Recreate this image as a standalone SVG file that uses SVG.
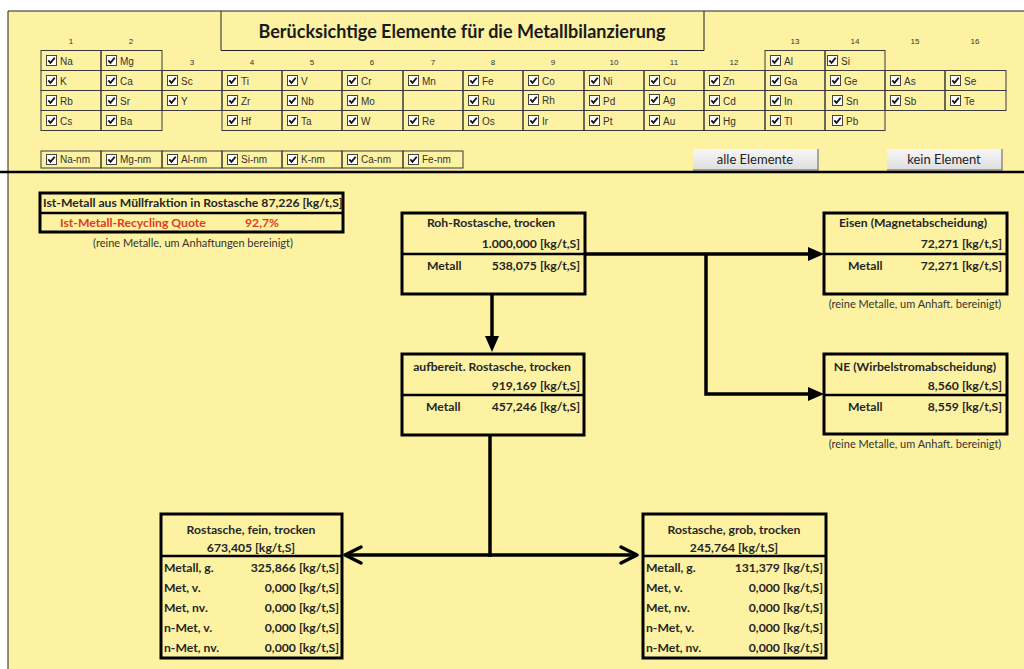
<svg xmlns="http://www.w3.org/2000/svg" width="1024" height="669" viewBox="0 0 1024 669">
  <style>
    .txt { font-family: Lato, "Liberation Sans", sans-serif; font-weight: bold; font-size: 12.2px; fill: #262626; }
    .note { font-family: Lato, "Liberation Sans", sans-serif; font-size: 11px; fill: #333; }
    .el { font-family: "Liberation Sans", Arial, sans-serif; font-size: 10px; fill: #333; }
    .grp { font-family: "Liberation Sans", Arial, sans-serif; font-size: 8px; fill: #333; text-anchor: middle; }
    .cell { fill: none; stroke: #3a3a3a; stroke-width: 1; }
    .box { fill: none; stroke: #000; stroke-width: 3; }
    .div { stroke: #000; stroke-width: 2.5; }
    .conn { fill: none; stroke: #000; stroke-width: 3.5; }
    .btn { font-family: Lato, "Liberation Sans", sans-serif; font-size: 13px; fill: #222; text-anchor: middle; }
    .end { text-anchor: end; }
    .mid { text-anchor: middle; }
  </style>
  <defs>
    <g id="cb">
      <rect x="0.5" y="0.5" width="10" height="10" fill="#fff" stroke="#444" stroke-width="1"/>
      <path d="M2.3,5.4 L4.5,7.9 L8.7,2.7" fill="none" stroke="#111" stroke-width="1.8"/>
    </g>
    <linearGradient id="btnfill" x1="0" y1="0" x2="0" y2="1">
      <stop offset="0" stop-color="#f7f7f7"/>
      <stop offset="1" stop-color="#dedede"/>
    </linearGradient>
    <marker id="tri" viewBox="0 0 16 14" refX="10" refY="7" markerWidth="16" markerHeight="14" orient="auto" markerUnits="userSpaceOnUse">
      <path d="M0,0 L16,7 L0,14 Z" fill="#000"/>
    </marker>
    <marker id="chev" viewBox="-3 -3 22 22" refX="16" refY="8" markerWidth="22" markerHeight="22" orient="auto" markerUnits="userSpaceOnUse">
      <path d="M0,0 L16,8 L0,16" fill="none" stroke="#000" stroke-width="3.5" stroke-linecap="round" stroke-linejoin="round"/>
    </marker>
  </defs>

  <!-- sheet background -->
  <rect x="0" y="0" width="1024" height="669" fill="#ffffff"/>
  <rect x="8" y="11" width="1016" height="658" fill="#fcf2a2"/>
  <path d="M8,11 H1024 M8,11 V669" stroke="#222" stroke-width="1" fill="none"/>

  <!-- title box -->
  <g id="title">
    <path d="M221,11 V50.5 H704 V11" fill="none" stroke="#222" stroke-width="1"/>
    <text x="462" y="37.5" font-family="Lato, 'Liberation Sans', sans-serif" font-weight="bold" font-size="18" fill="#1a1a1a" text-anchor="middle">Berücksichtige Elemente für die Metallbilanzierung</text>
  </g>

  <!-- group numbers -->
  <g id="groups">
    <text class="grp" x="71" y="44">1</text>
    <text class="grp" x="131" y="44">2</text>
    <text class="grp" x="192" y="65">3</text>
    <text class="grp" x="252" y="65">4</text>
    <text class="grp" x="312" y="65">5</text>
    <text class="grp" x="372" y="65">6</text>
    <text class="grp" x="433" y="65">7</text>
    <text class="grp" x="493" y="65">8</text>
    <text class="grp" x="553" y="65">9</text>
    <text class="grp" x="614" y="65">10</text>
    <text class="grp" x="674" y="65">11</text>
    <text class="grp" x="734" y="65">12</text>
    <text class="grp" x="795" y="44">13</text>
    <text class="grp" x="855" y="44">14</text>
    <text class="grp" x="915" y="44">15</text>
    <text class="grp" x="975" y="44">16</text>
  </g>

  <!-- element cells: row 1 -->
  <g id="row1">
    <rect class="cell" x="41" y="50.5" width="60" height="20"/><use href="#cb" x="46" y="55"/><text class="el" x="60" y="64.5">Na</text>
    <rect class="cell" x="101" y="50.5" width="61" height="20"/><use href="#cb" x="106" y="55"/><text class="el" x="120" y="64.5">Mg</text>
    <rect class="cell" x="765" y="50.5" width="60" height="20"/><use href="#cb" x="770" y="55"/><text class="el" x="784" y="64.5">Al</text>
    <rect class="cell" x="825" y="50.5" width="60" height="20"/><use href="#cb" x="827" y="55"/><text class="el" x="841" y="64.5">Si</text>
  </g>

  <!-- element cells: row 2 -->
  <g id="row2">
    <rect class="cell" x="41" y="70.5" width="60" height="20"/><use href="#cb" x="46" y="75"/><text class="el" x="60" y="84.5">K</text>
    <rect class="cell" x="101" y="70.5" width="61" height="20"/><use href="#cb" x="106" y="75"/><text class="el" x="120" y="84.5">Ca</text>
    <rect class="cell" x="162" y="70.5" width="60" height="20"/><use href="#cb" x="167" y="75"/><text class="el" x="181" y="84.5">Sc</text>
    <rect class="cell" x="222" y="70.5" width="60" height="20"/><use href="#cb" x="227" y="75"/><text class="el" x="241" y="84.5">Ti</text>
    <rect class="cell" x="282" y="70.5" width="60" height="20"/><use href="#cb" x="287" y="75"/><text class="el" x="301" y="84.5">V</text>
    <rect class="cell" x="342" y="70.5" width="61" height="20"/><use href="#cb" x="347" y="75"/><text class="el" x="361" y="84.5">Cr</text>
    <rect class="cell" x="403" y="70.5" width="60" height="20"/><use href="#cb" x="408" y="75"/><text class="el" x="422" y="84.5">Mn</text>
    <rect class="cell" x="463" y="70.5" width="60" height="20"/><use href="#cb" x="468" y="75"/><text class="el" x="482" y="84.5">Fe</text>
    <rect class="cell" x="523" y="70.5" width="61" height="20"/><use href="#cb" x="528" y="75"/><text class="el" x="542" y="84.5">Co</text>
    <rect class="cell" x="584" y="70.5" width="60" height="20"/><use href="#cb" x="589" y="75"/><text class="el" x="603" y="84.5">Ni</text>
    <rect class="cell" x="644" y="70.5" width="60" height="20"/><use href="#cb" x="649" y="75"/><text class="el" x="663" y="84.5">Cu</text>
    <rect class="cell" x="704" y="70.5" width="61" height="20"/><use href="#cb" x="709" y="75"/><text class="el" x="723" y="84.5">Zn</text>
    <rect class="cell" x="765" y="70.5" width="60" height="20"/><use href="#cb" x="770" y="75"/><text class="el" x="784" y="84.5">Ga</text>
    <rect class="cell" x="825" y="70.5" width="60" height="20"/><use href="#cb" x="830" y="75"/><text class="el" x="844" y="84.5">Ge</text>
    <rect class="cell" x="885" y="70.5" width="60" height="20"/><use href="#cb" x="890" y="75"/><text class="el" x="904" y="84.5">As</text>
    <rect class="cell" x="945" y="70.5" width="61" height="20"/><use href="#cb" x="950" y="75"/><text class="el" x="964" y="84.5">Se</text>
  </g>

  <!-- element cells: row 3 -->
  <g id="row3">
    <rect class="cell" x="41" y="90.5" width="60" height="20"/><use href="#cb" x="46" y="95"/><text class="el" x="60" y="104.5">Rb</text>
    <rect class="cell" x="101" y="90.5" width="61" height="20"/><use href="#cb" x="106" y="95"/><text class="el" x="120" y="104.5">Sr</text>
    <rect class="cell" x="162" y="90.5" width="60" height="20"/><use href="#cb" x="167" y="95"/><text class="el" x="181" y="104.5">Y</text>
    <rect class="cell" x="222" y="90.5" width="60" height="20"/><use href="#cb" x="227" y="95"/><text class="el" x="241" y="104.5">Zr</text>
    <rect class="cell" x="282" y="90.5" width="60" height="20"/><use href="#cb" x="287" y="95"/><text class="el" x="301" y="104.5">Nb</text>
    <rect class="cell" x="342" y="90.5" width="61" height="20"/><use href="#cb" x="347" y="95"/><text class="el" x="361" y="104.5">Mo</text>
    <rect class="cell" x="403" y="90.5" width="60" height="20"/>
    <rect class="cell" x="463" y="90.5" width="60" height="20"/><use href="#cb" x="468" y="95"/><text class="el" x="482" y="104.5">Ru</text>
    <rect class="cell" x="523" y="90.5" width="61" height="20"/><use href="#cb" x="528" y="94"/><text class="el" x="542" y="103.5">Rh</text>
    <rect class="cell" x="584" y="90.5" width="60" height="20"/><use href="#cb" x="589" y="95"/><text class="el" x="603" y="104.5">Pd</text>
    <rect class="cell" x="644" y="90.5" width="60" height="20"/><use href="#cb" x="649" y="94"/><text class="el" x="663" y="103.5">Ag</text>
    <rect class="cell" x="704" y="90.5" width="61" height="20"/><use href="#cb" x="709" y="95"/><text class="el" x="723" y="104.5">Cd</text>
    <rect class="cell" x="765" y="90.5" width="60" height="20"/><use href="#cb" x="770" y="95"/><text class="el" x="784" y="104.5">In</text>
    <rect class="cell" x="825" y="90.5" width="60" height="20"/><use href="#cb" x="832" y="95"/><text class="el" x="846" y="104.5">Sn</text>
    <rect class="cell" x="885" y="90.5" width="60" height="20"/><use href="#cb" x="890" y="95"/><text class="el" x="904" y="104.5">Sb</text>
    <rect class="cell" x="945" y="90.5" width="61" height="20"/><use href="#cb" x="950" y="95"/><text class="el" x="964" y="104.5">Te</text>
  </g>

  <!-- element cells: row 4 -->
  <g id="row4">
    <rect class="cell" x="41" y="110.5" width="60" height="20"/><use href="#cb" x="46" y="115"/><text class="el" x="60" y="124.5">Cs</text>
    <rect class="cell" x="101" y="110.5" width="61" height="20"/><use href="#cb" x="106" y="115"/><text class="el" x="120" y="124.5">Ba</text>
    <rect class="cell" x="222" y="110.5" width="60" height="20"/><use href="#cb" x="227" y="115"/><text class="el" x="241" y="124.5">Hf</text>
    <rect class="cell" x="282" y="110.5" width="60" height="20"/><use href="#cb" x="287" y="115"/><text class="el" x="301" y="124.5">Ta</text>
    <rect class="cell" x="342" y="110.5" width="61" height="20"/><use href="#cb" x="347" y="115"/><text class="el" x="361" y="124.5">W</text>
    <rect class="cell" x="403" y="110.5" width="60" height="20"/><use href="#cb" x="408" y="115"/><text class="el" x="422" y="124.5">Re</text>
    <rect class="cell" x="463" y="110.5" width="60" height="20"/><use href="#cb" x="468" y="115"/><text class="el" x="482" y="124.5">Os</text>
    <rect class="cell" x="523" y="110.5" width="61" height="20"/><use href="#cb" x="528" y="115"/><text class="el" x="542" y="124.5">Ir</text>
    <rect class="cell" x="584" y="110.5" width="60" height="20"/><use href="#cb" x="589" y="115"/><text class="el" x="603" y="124.5">Pt</text>
    <rect class="cell" x="644" y="110.5" width="60" height="20"/><use href="#cb" x="649" y="115"/><text class="el" x="663" y="124.5">Au</text>
    <rect class="cell" x="704" y="110.5" width="61" height="20"/><use href="#cb" x="709" y="115"/><text class="el" x="723" y="124.5">Hg</text>
    <rect class="cell" x="765" y="110.5" width="60" height="20"/><use href="#cb" x="770" y="115"/><text class="el" x="784" y="124.5">Tl</text>
    <rect class="cell" x="825" y="110.5" width="60" height="20"/><use href="#cb" x="832" y="115"/><text class="el" x="846" y="124.5">Pb</text>
  </g>

  <!-- non-metal fractions -->
  <g id="nm-row">
    <rect class="cell" x="41" y="151" width="60" height="17"/><use href="#cb" x="46" y="154"/><text class="el" x="60" y="163">Na-nm</text>
    <rect class="cell" x="101" y="151" width="61" height="17"/><use href="#cb" x="106" y="154"/><text class="el" x="120" y="163">Mg-nm</text>
    <rect class="cell" x="162" y="151" width="60" height="17"/><use href="#cb" x="167" y="154"/><text class="el" x="181" y="163">Al-nm</text>
    <rect class="cell" x="222" y="151" width="60" height="17"/><use href="#cb" x="227" y="154"/><text class="el" x="241" y="163">Si-nm</text>
    <rect class="cell" x="282" y="151" width="60" height="17"/><use href="#cb" x="287" y="154"/><text class="el" x="301" y="163">K-nm</text>
    <rect class="cell" x="342" y="151" width="61" height="17"/><use href="#cb" x="347" y="154"/><text class="el" x="361" y="163">Ca-nm</text>
    <rect class="cell" x="403" y="151" width="60" height="17"/><use href="#cb" x="408" y="154"/><text class="el" x="422" y="163">Fe-nm</text>
  </g>

  <!-- buttons -->
  <g id="btn-all">
    <rect x="693" y="149" width="125" height="21" fill="url(#btnfill)"/>
    <path d="M818,149 V170 H693" fill="none" stroke="#8a8a8a" stroke-width="1.5"/>
    <text class="btn" x="755" y="164">alle Elemente</text>
  </g>
  <g id="btn-none">
    <rect x="887" y="149" width="115" height="21" fill="url(#btnfill)"/>
    <path d="M1002,149 V170 H887" fill="none" stroke="#8a8a8a" stroke-width="1.5"/>
    <text class="btn" x="944" y="164">kein Element</text>
  </g>

  <!-- separator -->
  <path d="M0,172 H1024" stroke="#000" stroke-width="2.5"/>

  <!-- summary -->
  <g id="summary">
    <rect class="box" x="40" y="193" width="303" height="39" stroke-width="2.5"/>
    <line class="div" x1="40" y1="213" x2="343" y2="213" stroke-width="2"/>
    <text class="txt" x="43" y="207">Ist-Metall aus Müllfraktion in Rostasche 87,226 [kg/t,S]</text>
    <text class="txt" x="60" y="227" style="fill:#e03a26">Ist-Metall-Recycling Quote</text>
    <text class="txt" x="245" y="227" style="fill:#e03a26">92,7%</text>
    <text class="note mid" x="193" y="247">(reine Metalle, um Anhaftungen bereinigt)</text>
  </g>

  <!-- connectors -->
  <g id="connectors">
    <path class="conn" d="M585,254 H818" marker-end="url(#tri)"/>
    <path class="conn" d="M706,254 V394 H818" marker-end="url(#tri)"/>
    <path class="conn" d="M492,294 V346" marker-end="url(#tri)"/>
    <path class="conn" d="M490,435 V555"/>
    <path class="conn" d="M492,555 H345" marker-end="url(#chev)"/>
    <path class="conn" d="M488,555 H637" marker-end="url(#chev)"/>
  </g>

  <!-- raw ash -->
  <g id="roh">
    <rect class="box" x="402" y="213" width="183" height="81"/>
    <line class="div" x1="402" y1="254" x2="585" y2="254"/>
    <text class="txt mid" x="491" y="227">Roh-Rostasche, trocken</text>
    <text class="txt end" x="580" y="248">1.000,000 [kg/t,S]</text>
    <text class="txt" x="427" y="270">Metall</text>
    <text class="txt end" x="580" y="270">538,075 [kg/t,S]</text>
  </g>

  <!-- processed ash -->
  <g id="aufbereit">
    <rect class="box" x="402" y="354" width="182" height="81"/>
    <line class="div" x1="402" y1="395" x2="584" y2="395"/>
    <text class="txt mid" x="492" y="371">aufbereit. Rostasche, trocken</text>
    <text class="txt end" x="580" y="390">919,169 [kg/t,S]</text>
    <text class="txt" x="426" y="411">Metall</text>
    <text class="txt end" x="580" y="411">457,246 [kg/t,S]</text>
  </g>

  <!-- iron -->
  <g id="eisen">
    <rect class="box" x="824" y="213" width="183" height="81"/>
    <line class="div" x1="824" y1="254" x2="1007" y2="254"/>
    <text class="txt mid" x="913" y="227">Eisen (Magnetabscheidung)</text>
    <text class="txt end" x="1002" y="248">72,271 [kg/t,S]</text>
    <text class="txt" x="848" y="270">Metall</text>
    <text class="txt end" x="1002" y="270">72,271 [kg/t,S]</text>
    <text class="note mid" x="915" y="308">(reine Metalle, um Anhaft. bereinigt)</text>
  </g>

  <!-- non-ferrous -->
  <g id="ne">
    <rect class="box" x="824" y="354" width="183" height="80"/>
    <line class="div" x1="824" y1="395" x2="1007" y2="395"/>
    <text class="txt mid" x="915" y="371">NE (Wirbelstromabscheidung)</text>
    <text class="txt end" x="1002" y="390">8,560 [kg/t,S]</text>
    <text class="txt" x="848" y="411">Metall</text>
    <text class="txt end" x="1002" y="411">8,559 [kg/t,S]</text>
    <text class="note mid" x="915" y="448">(reine Metalle, um Anhaft. bereinigt)</text>
  </g>

  <!-- fine fraction -->
  <g id="fein">
    <rect class="box" x="161" y="514" width="181" height="144"/>
    <line class="div" x1="161" y1="556" x2="342" y2="556"/>
    <text class="txt mid" x="251" y="534">Rostasche, fein, trocken</text>
    <text class="txt mid" x="251" y="552">673,405 [kg/t,S]</text>
    <text class="txt" x="164" y="572">Metall, g.</text><text class="txt end" x="339" y="572">325,866 [kg/t,S]</text>
    <text class="txt" x="164" y="592">Met, v.</text><text class="txt end" x="339" y="592">0,000 [kg/t,S]</text>
    <text class="txt" x="164" y="612">Met, nv.</text><text class="txt end" x="339" y="612">0,000 [kg/t,S]</text>
    <text class="txt" x="164" y="632">n-Met, v.</text><text class="txt end" x="339" y="632">0,000 [kg/t,S]</text>
    <text class="txt" x="164" y="652">n-Met, nv.</text><text class="txt end" x="339" y="652">0,000 [kg/t,S]</text>
  </g>

  <!-- coarse fraction -->
  <g id="grob">
    <rect class="box" x="643" y="514" width="183" height="144"/>
    <line class="div" x1="643" y1="556" x2="826" y2="556"/>
    <text class="txt mid" x="734" y="534">Rostasche, grob, trocken</text>
    <text class="txt mid" x="734" y="552">245,764 [kg/t,S]</text>
    <text class="txt" x="646" y="572">Metall, g.</text><text class="txt end" x="823" y="572">131,379 [kg/t,S]</text>
    <text class="txt" x="646" y="592">Met, v.</text><text class="txt end" x="823" y="592">0,000 [kg/t,S]</text>
    <text class="txt" x="646" y="612">Met, nv.</text><text class="txt end" x="823" y="612">0,000 [kg/t,S]</text>
    <text class="txt" x="646" y="632">n-Met, v.</text><text class="txt end" x="823" y="632">0,000 [kg/t,S]</text>
    <text class="txt" x="646" y="652">n-Met, nv.</text><text class="txt end" x="823" y="652">0,000 [kg/t,S]</text>
  </g>
</svg>
